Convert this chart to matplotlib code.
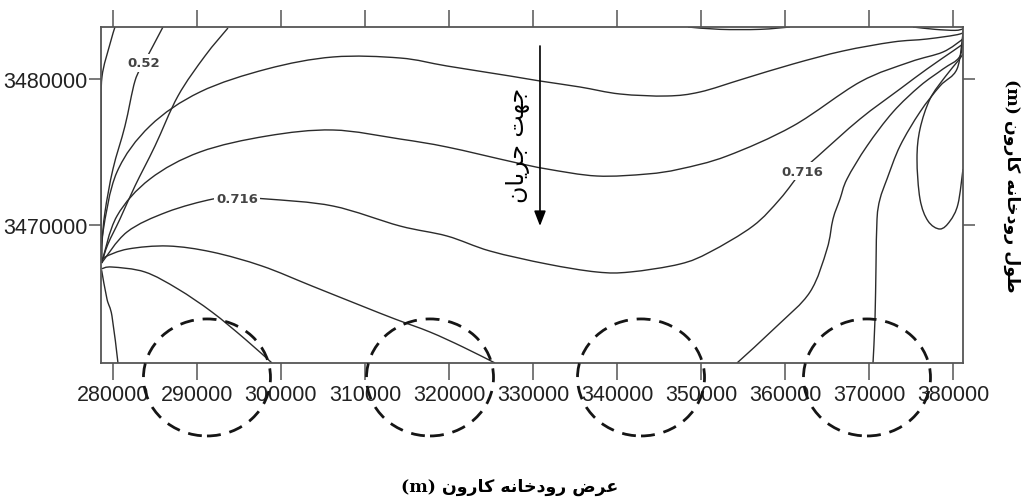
import numpy as np
import matplotlib
matplotlib.use("Agg")
import matplotlib.pyplot as plt
from matplotlib.patches import Ellipse, PathPatch
from matplotlib.path import Path

plt.rcParams['font.family'] = ['Liberation Sans', 'DejaVu Sans']

# axis ticks
x_ticks = [280000, 290000, 300000, 310000, 320000, 330000, 340000, 350000, 360000, 370000, 380000]
y_ticks = [3470000, 3480000]

# contour lines (x, y in metres)
# lines fanning out of the left point
a1_x = [280238, 279643, 278690, 278600, 278600, 278650]
a1_y = [3483561, 3482397, 3480137, 3477260, 3471781, 3467400]

a2_x = [285952, 284762, 283690, 282619, 281429, 280000, 279048, 278690, 278650]
a2_y = [3483561, 3482260, 3481096, 3479863, 3476781, 3473836, 3470890, 3468699, 3467400]

a3_x = [293690, 290952, 287738, 285000, 282619, 280833, 279405, 278650]
a3_y = [3483493, 3481575, 3478836, 3475411, 3472671, 3470411, 3468699, 3467400]

a4_x = [278650, 278810, 280476, 284405, 290357, 298333, 306190, 314167, 319762, 327262, 330833,
        335595, 340357, 345952, 349881, 355000, 360952, 366905, 372857, 376905, 380833, 381190]
a4_y = [3467400, 3469521, 3473630, 3476781, 3479110, 3480685, 3481507, 3481438, 3480890, 3480205, 3479863,
        3479452, 3478973, 3478836, 3479110, 3480000, 3481027, 3481918, 3482534, 3482739, 3483082, 3483424]

a5_x = [278650, 280476, 284405, 290357, 298333, 306190, 314167, 319762, 327619, 331667, 337619,
        343571, 347500, 353095, 360952, 368929, 374881, 378810, 381190]
a5_y = [3467400, 3470616, 3473151, 3475000, 3476096, 3476507, 3475890, 3475342, 3474315, 3473836, 3473356,
        3473493, 3473836, 3474726, 3476781, 3479795, 3481164, 3481849, 3482739]

a6_x = [278650, 281667, 286429, 291905, 294762, 298333, 306190, 314167, 319762, 324881, 331667, 337619,
        341548, 347500, 351071, 356190, 359405, 362024, 363810, 368929, 373690, 376905, 380000, 381190]
a6_y = [3467400, 3469521, 3470890, 3471781, 3471849, 3471781, 3471301, 3469932, 3469247, 3468219, 3467329, 3466781,
        3466781, 3467329, 3468151, 3469932, 3471781, 3473699, 3474658, 3477260, 3479315, 3480685, 3481918, 3482397]

a7_x = [278650, 279048, 281786, 286548, 291786, 297738, 303690, 309643, 313571, 317738, 321667, 325476]
a7_y = [3467500, 3467808, 3468356, 3468562, 3468151, 3467192, 3465822, 3464452, 3463562, 3462671, 3461644, 3460550]

a8_x = [278650, 279881, 283810, 287738, 291786, 295714, 298929]
a8_y = [3467000, 3467123, 3466781, 3465617, 3464041, 3462192, 3460550]

a9_x = [278650, 279286, 279881, 280595]
a9_y = [3466900, 3464932, 3463767, 3460550]

# lines fanning out of the top right corner
b1_x = [381190, 380833, 378810, 376071, 372857, 369762, 367381, 366548, 365714, 365000, 362976, 359048, 354286]
b1_y = [3483287, 3481575, 3480685, 3479521, 3477740, 3475411, 3473151, 3471781, 3470411, 3468356, 3465411,
        3463082, 3460550]

b2_x = [381190, 380476, 378452, 376071, 373690, 372143, 371310, 370954, 370833, 370714, 370476]
b2_y = [3483150, 3480685, 3479521, 3477740, 3475411, 3473151, 3471781, 3470411, 3467192, 3463562, 3460550]

loop_x = [381190, 380595, 379048, 377262, 376071, 375714, 376071, 377024, 378452, 379643, 380595, 381190]
loop_y = [3481712, 3481233, 3480137, 3478630, 3476575, 3474520, 3471781, 3470274, 3469726, 3470274, 3471438, 3473836]

top1_x = [348452, 352262, 357024, 360595]
top1_y = [3483561, 3483400, 3483400, 3483561]
top2_x = [375238, 377857, 380238, 381190]
top2_y = [3483561, 3483400, 3483330, 3483424]

contour_lines = [(a1_x, a1_y), (a2_x, a2_y), (a3_x, a3_y), (a4_x, a4_y), (a5_x, a5_y),
                 (a6_x, a6_y), (a7_x, a7_y), (a8_x, a8_y), (a9_x, a9_y),
                 (b1_x, b1_y), (b2_x, b2_y), (loop_x, loop_y), (top1_x, top1_y), (top2_x, top2_y)]

# contour labels
label_text = ['0.52', '0.716', '0.716']
label_x = [283690, 294762, 362024]
label_y = [3481096, 3471849, 3473699]

# dashed circles under the axis
circle_x = [291190, 317740, 342860, 369760]
circle_y = 3459560

# flow direction arrow
arrow_x = 330833
arrow_y0 = 3482260
arrow_y1 = 3469932

# Persian text, letters shaped by hand and put in visual order
flow_text = '\uFEE5\uFE8E\uFEF3\uFEAE\uFE9F \uFE96\uFEEC\uFE9F'            # جهت جریان
karun = '\uFEE5\uFEED\uFEAD\uFE8E\uFEDB \uFEEA\uFEE7\uFE8E\uFEA7\uFEA9\uFEED\uFEAD'
x_label = '(m) ' + karun + ' \uFEBD\uFEAE\uFECB'                       # عرض رودخانه کارون (m)
y_label = '(m) ' + karun + ' \uFEDD\uFEEE\uFEC3'                       # طول رودخانه کارون (m)


def smooth_path(xs, ys):
    # bezier curve through the read points (catmull-rom style handles)
    p = np.column_stack([xs, ys]).astype(float)
    n = len(p)
    verts = [p[0]]
    codes = [Path.MOVETO]
    for i in range(n - 1):
        p0 = p[i - 1] if i > 0 else p[i]
        p1 = p[i]
        p2 = p[i + 1]
        p3 = p[i + 2] if i + 2 < n else p[i + 1]
        verts += [p1 + (p2 - p0) / 6, p2 - (p3 - p1) / 6, p2]
        codes += [Path.CURVE4] * 3
    return Path(verts, codes)


fig = plt.figure(figsize=(10.26, 5.02), dpi=100)
ax = fig.add_axes([0.0984, 0.2749, 0.8402, 0.6693])

for xs, ys in contour_lines:
    ax.add_patch(PathPatch(smooth_path(xs, ys), fill=False, ec='#2b2b2b', lw=1.0, zorder=2))

for t, lx, ly in zip(label_text, label_x, label_y):
    ax.text(lx, ly, t, ha='center', va='center', fontsize=9.5, fontweight='bold',
            family='DejaVu Sans', color='#444444', zorder=3,
            bbox=dict(facecolor='white', edgecolor='none', pad=1.5))

for cx in circle_x:
    ax.add_patch(Ellipse((cx, circle_y), 15120, 8014, fill=False, ec='#151515',
                         lw=2.0, ls=(0, (5, 3.2)), clip_on=False, zorder=6))

ax.annotate('', xy=(arrow_x, arrow_y1), xytext=(arrow_x, arrow_y0),
            arrowprops=dict(arrowstyle='-|>,head_length=0.9,head_width=0.35',
                            lw=1.2, color='black', shrinkA=0, shrinkB=0), zorder=4)
ax.text(328200, 3475500, flow_text, rotation=90, ha='center', va='center',
        fontsize=17, family='DejaVu Sans', color='black', zorder=4)

ax.set_xlim(278570, 381190)
ax.set_ylim(3460550, 3483560)
ax.set_xticks(x_ticks)
ax.set_xticklabels([str(v) for v in x_ticks])
ax.set_yticks(y_ticks)
ax.set_yticklabels([str(v) for v in y_ticks])

ax.tick_params(axis='x', direction='out', length=12, width=1.1, color='#555555',
               top=True, labeltop=False, pad=3, labelsize=15.5, labelcolor='#222222')
ax.tick_params(axis='y', direction='out', length=8.5, width=1.1, color='#555555',
               right=True, labelright=False, pad=1, labelsize=15.5, labelcolor='#222222')
for s in ax.spines.values():
    s.set_color('#555555')
    s.set_linewidth(1.3)

fig.text(0.497, 0.030, x_label, ha='center', va='center', fontsize=12.5,
         fontweight='bold', family=['DejaVu Serif', 'DejaVu Sans'])
fig.text(0.986, 0.629, y_label, ha='center', va='center', rotation=-90, fontsize=12.5,
         fontweight='bold', family=['DejaVu Serif', 'DejaVu Sans'])

fig.savefig('out.png', dpi=100)
